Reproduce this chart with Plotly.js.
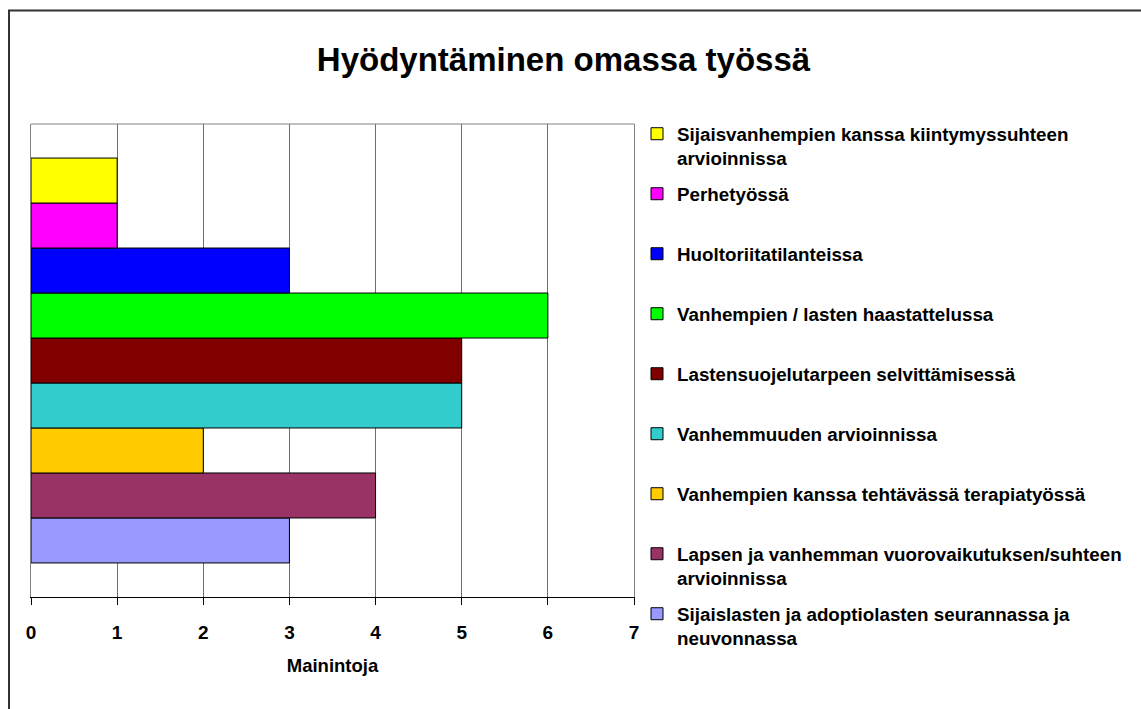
<!DOCTYPE html>
<html>
<head>
<meta charset="utf-8">
<script src="https://cdn.plot.ly/plotly-3.0.1.min.js"></script>
<style>
html,body{margin:0;padding:0;background:#fff;}
#chart{width:1141px;height:709px;}
</style>
</head>
<body>
<div id="chart"></div>
<script>
// Data (top to bottom as shown in the chart/legend)
const category = ['Hyödyntäminen'];
const seriesNames = [
  'Sijaisvanhempien kanssa kiintymyssuhteen<br>arvioinnissa',
  'Perhetyössä',
  'Huoltoriitatilanteissa',
  'Vanhempien / lasten haastattelussa',
  'Lastensuojelutarpeen selvittämisessä',
  'Vanhemmuuden arvioinnissa',
  'Vanhempien kanssa tehtävässä terapiatyössä',
  'Lapsen ja vanhemman vuorovaikutuksen/suhteen<br>arvioinnissa',
  'Sijaislasten ja adoptiolasten seurannassa ja<br>neuvonnassa'
];
const seriesValues = [1, 1, 3, 6, 5, 5, 2, 4, 3];
const seriesColors = ['#FFFF00', '#FF00FF', '#0000FF', '#00FF00', '#800000', '#33CCCC', '#FFCC00', '#993366', '#9999FF'];
const xTickVals = [0, 1, 2, 3, 4, 5, 6, 7];
const chartTitle = 'Hyödyntäminen omassa työssä';
const xTitle = 'Mainintoja';

const FONT = 'Liberation Sans, Arial, Helvetica, sans-serif';

// plot area geometry in px
const plotTop = 124, plotBottom = 597, plotLeft = 31, plotRight = 634;
const plotH = plotBottom - plotTop, plotW = plotRight - plotLeft;

const traces = [];
const layout = {
  width: 1141, height: 709,
  margin: {l: plotLeft, r: 1141 - plotRight, t: plotTop, b: 709 - plotBottom, pad: 0},
  paper_bgcolor: '#ffffff', plot_bgcolor: '#ffffff',
  barmode: 'group', bargap: 0.144, bargroupgap: 0,
  title: {
    text: chartTitle,
    font: {family: FONT, size: 33, weight: 'bold', color: '#000'},
    x: 563.5 / 1141, xanchor: 'center', xref: 'container',
    y: 1 - 59 / 709, yanchor: 'middle', yref: 'container'
  },
  xaxis: {
    range: [0, 7], tickvals: xTickVals, ticktext: xTickVals.map(String),
    showgrid: true, gridcolor: '#6e6e6e', gridwidth: 1,
    zeroline: false,
    showline: true, linecolor: '#000', linewidth: 1,
    ticks: 'outside', ticklen: 7, tickcolor: '#000', tickwidth: 1,
    ticklabelstandoff: 11,
    tickfont: {family: FONT, size: 19, weight: 'bold', color: '#000'},
    title: {text: xTitle, font: {family: FONT, size: 18.5, weight: 'bold', color: '#000'}, standoff: 17},
    fixedrange: true
  },
  yaxis: {
    type: 'category', range: [-0.5, 0.5],
    showticklabels: false, ticks: '', showgrid: false, zeroline: false,
    showline: true, linecolor: '#808080', linewidth: 1, mirror: true,
    fixedrange: true
  },
  shapes: [
    {type: 'line', xref: 'paper', yref: 'paper', x0: 0, x1: 1, y0: 1, y1: 1,
     line: {color: '#808080', width: 1}},
    {type: 'rect', xref: 'paper', yref: 'paper',
     x0: (9 - plotLeft) / plotW, x1: 3, y0: -3, y1: (plotBottom - 10.5) / plotH,
     line: {color: '#333333', width: 2}, fillcolor: 'rgba(0,0,0,0)'}
  ],
  showlegend: true
};

const legendTextLeft = 675;
const firstLineY0 = 135, legendStep = 60, legendOff = 20;

// traces are created bottom-first so grouped bars stack top-to-bottom as in the chart
for (let k = seriesNames.length - 1; k >= 0; k--) {
  const legendId = k === 0 ? 'legend' : 'legend' + (k + 1);
  traces.push({
    type: 'bar', orientation: 'h',
    y: category, x: [seriesValues[k]],
    name: seriesNames[k],
    marker: {color: seriesColors[k], line: {color: '#000', width: 1}},
    legend: legendId,
    hoverinfo: 'x+name'
  });
  const lineY = firstLineY0 + legendStep * k;
  layout[legendId] = {
    x: (legendTextLeft - 38 - plotLeft) / plotW, xanchor: 'left',
    y: (plotBottom - (lineY - legendOff)) / plotH, yanchor: 'top',
    bgcolor: 'rgba(0,0,0,0)', borderwidth: 0,
    valign: 'top', itemwidth: 30,
    font: {family: FONT, size: 18.8, weight: 'bold', color: '#000'}
  };
}

Plotly.newPlot('chart', traces, layout, {displayModeBar: false, staticPlot: true});
</script>
</body>
</html>
